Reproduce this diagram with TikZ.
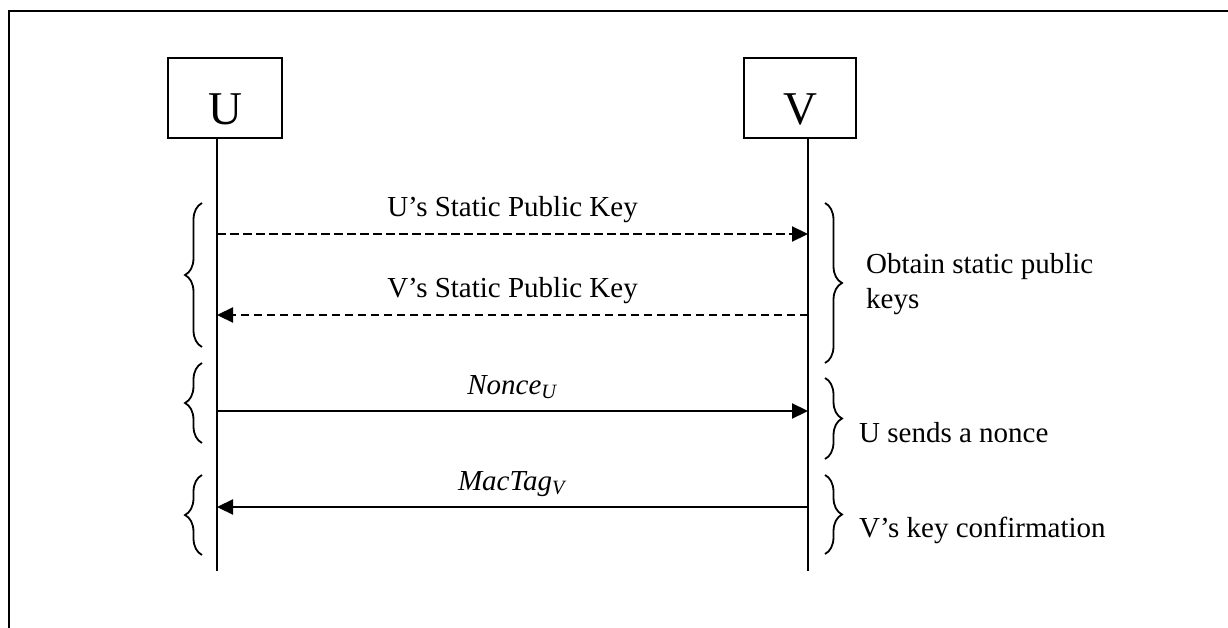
\documentclass[tikz,border=0pt]{standalone}
\usepackage{fontspec}
\setmainfont{Liberation Serif}
\usetikzlibrary{decorations.pathreplacing,arrows.meta}
\begin{document}
\begin{tikzpicture}[x=1pt,y=-1pt,
  box/.style={draw,line width=2.2pt,minimum width=114pt,minimum height=80pt,inner sep=0pt,text height=54pt,text depth=0pt,font=\fontsize{47}{50}\selectfont},
  life/.style={line width=2pt},
  msg/.style={line width=2.2pt,-{Triangle[length=16pt,width=15pt]}},
  dmsg/.style={msg,dash pattern=on 8.5pt off 4.5pt},
  lbl/.style={font=\fontsize{29}{35}\selectfont,anchor=base,yshift=17pt,inner sep=0pt},
  side/.style={font=\fontsize{29}{35}\selectfont,anchor=base west,inner sep=0pt,align=left},
  brc/.style={decorate,decoration={brace,amplitude=17pt},line width=1.8pt}
]
\useasboundingbox (0,0) rectangle (1228,628);
% frame (cut at right and bottom)
\coordinate (fTR) at (1228,11);
\coordinate (fTL) at (9,11);
\coordinate (fBL) at (9,628);
\draw[line width=2.2pt] (fTR) -- (fTL) -- (fBL);

% actors
\node[box] (U) at (225,98) {U};
\node[box,minimum width=112pt] (V) at (800,98) {V};

% lifelines
\coordinate (ub) at (217,571);
\coordinate (vb) at (808,571);
\draw[life] (U.south -| ub) -- (ub);
\draw[life] (V.south -| vb) -- (vb);

% message anchors
\coordinate (u1) at (217,234); \coordinate (v1) at (808,234);
\coordinate (u2) at (217,315); \coordinate (v2) at (808,315);
\coordinate (u3) at (217,411); \coordinate (v3) at (808,411);
\coordinate (u4) at (217,507); \coordinate (v4) at (808,507);

\draw[dmsg] (u1) -- node[lbl] {U’s Static Public Key} (v1);
\draw[dmsg] (v2) -- node[lbl] {V’s Static Public Key} (u2);
\draw[msg] (u3) -- node[lbl] {\textit{Nonce}\textsubscript{\textit{U}}} (v3);
\draw[msg] (v4) -- node[lbl] {\textit{MacTag}\textsubscript{\textit{V}}} (u4);

% left braces
\coordinate (lb1a) at (202,347); \coordinate (lb1b) at (202,203);
\coordinate (lb2a) at (202,443); \coordinate (lb2b) at (202,363);
\coordinate (lb3a) at (202,555); \coordinate (lb3b) at (202,475);
\draw[brc] (lb1a) -- (lb1b);
\draw[brc] (lb2a) -- (lb2b);
\draw[brc] (lb3a) -- (lb3b);

% right braces
\coordinate (rb1a) at (825,203); \coordinate (rb1b) at (825,363);
\coordinate (rb2a) at (825,378); \coordinate (rb2b) at (825,459);
\coordinate (rb3a) at (825,475); \coordinate (rb3b) at (825,554);
\draw[brc] (rb1a) -- (rb1b);
\draw[brc] (rb2a) -- (rb2b);
\draw[brc] (rb3a) -- (rb3b);

% side labels
\node[side] (t1) at (866,308) {Obtain static public\\keys};
\node[side] (t2) at (859,442) {U sends a nonce};
\node[side] (t3) at (859,537) {V’s key confirmation};
\end{tikzpicture}
\end{document}
